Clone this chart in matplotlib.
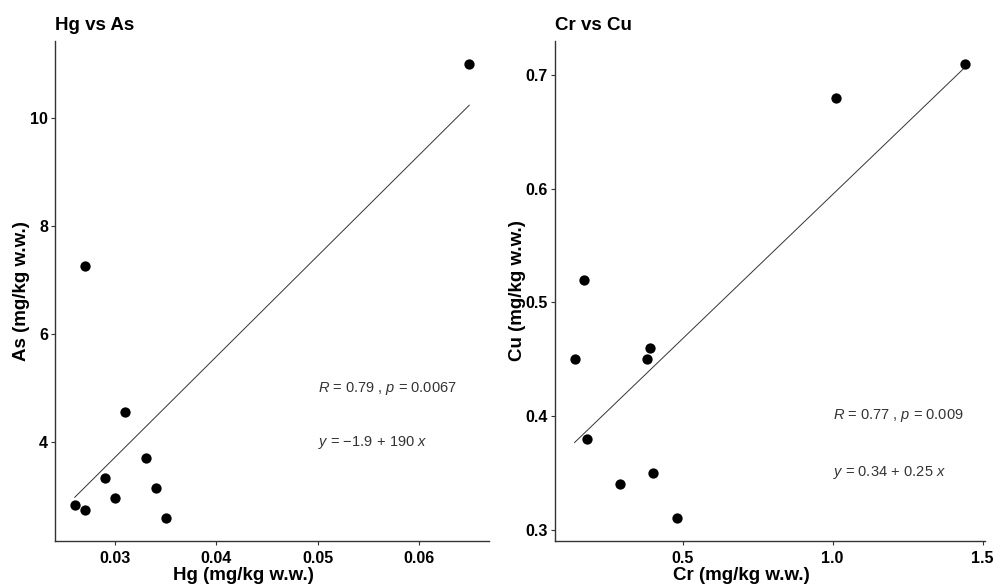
import numpy as np
import matplotlib
matplotlib.use("Agg")
import matplotlib.pyplot as plt

plt.rcParams['font.family'] = ['Liberation Sans', 'DejaVu Sans']
plt.rcParams['mathtext.fontset'] = 'custom'
plt.rcParams['mathtext.rm'] = 'Liberation Sans'
plt.rcParams['mathtext.it'] = 'Liberation Sans:italic'

hg = [0.065, 0.027, 0.031, 0.033, 0.029, 0.034, 0.030, 0.026, 0.027, 0.035]
as_ = [11.0, 7.25, 4.55, 3.70, 3.33, 3.15, 2.96, 2.83, 2.74, 2.59]

cr = [1.443, 1.01, 0.17, 0.14, 0.38, 0.39, 0.18, 0.29, 0.40, 0.48]
cu = [0.71, 0.68, 0.52, 0.45, 0.45, 0.46, 0.38, 0.34, 0.35, 0.31]

panels = [
    dict(x=hg, y=as_, title="Hg vs As", xlabel="Hg (mg/kg w.w.)", ylabel="As (mg/kg w.w.)",
         xticks=[0.03, 0.04, 0.05, 0.06], xtl=["0.03", "0.04", "0.05", "0.06"],
         yticks=[4, 6, 8, 10], ytl=["4", "6", "8", "10"],
         txt1=r"$\mathit{R}$ = 0.79 , $\mathit{p}$ = 0.0067", txt2="$\\mathit{y}$ = \u22121.9$\\,+\\,$190 $\\mathit{x}$",
         lx=0.05, ly1=5.0, ly2=4.0),
    dict(x=cr, y=cu, title="Cr vs Cu", xlabel="Cr (mg/kg w.w.)", ylabel="Cu (mg/kg w.w.)",
         xticks=[0.5, 1.0, 1.5], xtl=["0.5", "1.0", "1.5"],
         yticks=[0.3, 0.4, 0.5, 0.6, 0.7], ytl=["0.3", "0.4", "0.5", "0.6", "0.7"],
         txt1=r"$\mathit{R}$ = 0.77 , $\mathit{p}$ = 0.009", txt2="$\\mathit{y}$ = 0.34$\\,+\\,$0.25 $\\mathit{x}$",
         lx=1.0, ly1=0.40, ly2=0.35),
]

W, H = 994, 586
fig = plt.figure(figsize=(W / 100, H / 100), dpi=100)
boxes = [(55, 41, 489, 541), (555, 41, 985, 541)]
ylab_x = [21, 517]
xlab_x = [243, 741]

for p, (x0, y0, x1, y1), yl, xl in zip(panels, boxes, ylab_x, xlab_x):
    ax = fig.add_axes([x0 / W, 1 - y1 / H, (x1 - x0) / W, (y1 - y0) / H])
    x = np.array(p["x"]); y = np.array(p["y"])
    ax.scatter(x, y, s=55, color='black', zorder=3, linewidths=0)
    b, a = np.polyfit(x, y, 1)
    xs = np.array([x.min(), x.max()])
    ax.plot(xs, a + b * xs, color='#333333', lw=0.7, zorder=2)
    xr = x.max() - x.min(); yr = y.max() - y.min()
    ax.set_xlim(x.min() - 0.05 * xr, x.max() + 0.05 * xr)
    ax.set_ylim(y.min() - 0.05 * yr, y.max() + 0.05 * yr)
    ax.set_xticks(p["xticks"]); ax.set_xticklabels(p["xtl"])
    ax.set_yticks(p["yticks"]); ax.set_yticklabels(p["ytl"])
    for lab in ax.get_xticklabels() + ax.get_yticklabels():
        lab.set_fontweight('bold'); lab.set_fontsize(11.5); lab.set_color('black')
    ax.tick_params(length=3, width=0.8, color='#333333', pad=2)
    ax.tick_params(axis='x', pad=4)
    for s in ['top', 'right']:
        ax.spines[s].set_visible(False)
    for s in ['left', 'bottom']:
        ax.spines[s].set_color('#333333'); ax.spines[s].set_linewidth(1.0)
    ax.set_xlabel(p["xlabel"], fontsize=13.5, fontweight='bold')
    ax.set_ylabel(p["ylabel"], fontsize=13.5, fontweight='bold')
    ax.xaxis.set_label_coords((xl - x0) / (x1 - x0), -(576 - y1) / (y1 - y0))
    ax.xaxis.label.set_va('center')
    ax.yaxis.set_label_coords(-(x0 - yl) / (x1 - x0), 0.5)
    ax.yaxis.label.set_va('center')
    ax.set_title(p["title"], fontsize=13.5, fontweight='bold', loc='left', pad=8)
    ax.text(p["lx"], p["ly1"], p["txt1"], fontsize=10.5, color='#333333', va='center', ha='left')
    ax.text(p["lx"], p["ly2"], p["txt2"], fontsize=10.5, color='#333333', va='center', ha='left')

fig.savefig("out.png", dpi=100)
